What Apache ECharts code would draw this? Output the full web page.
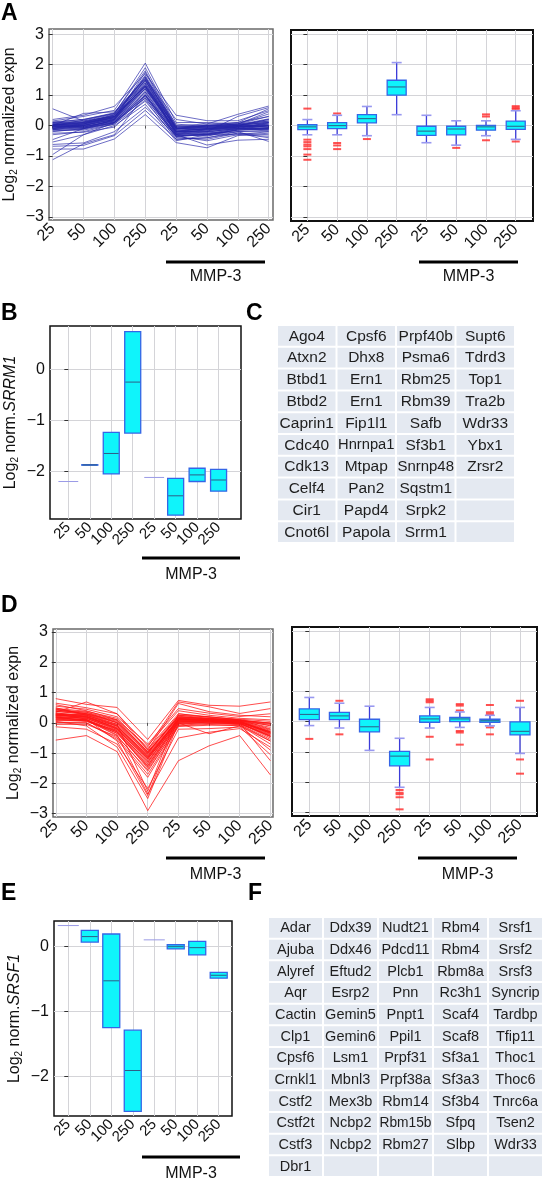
<!DOCTYPE html>
<html><head><meta charset="utf-8">
<script src="https://cdn.jsdelivr.net/npm/echarts@6/dist/echarts.min.js"></script>
<style>html,body{margin:0;padding:0;background:#fff}#c{width:547px;height:1180px}</style>
</head><body><div id="c"></div>
<script>
const FONT = '"Liberation Sans", Arial, Helvetica, sans-serif';

// ---------- categories / ticks ----------
const doseLabels = ['25', '50', '100', '250', '25', '50', '100', '250'];
const xIdx = [0, 1, 2, 3, 4, 5, 6, 7];
const yTicksFull = [-3, -2, -1, 0, 1, 2, 3];
const yTicksSmall = [-2, -1, 0];
const groupLabel = 'MMP-3';

// ---------- panel A: up-regulated profiles (log2 normalized expn at 8 conditions) ----------
const upLines = [
  [0.05, 0.10, 0.30, 1.30, -0.20, -0.10, 0.00, 0.10],
  [-0.10, 0.00, 0.20, 1.50, -0.30, -0.20, -0.10, 0.00],
  [0.00, 0.05, 0.35, 1.60, -0.10, -0.05, 0.00, 0.20],
  [-0.05, -0.05, 0.15, 1.10, -0.25, -0.30, -0.15, -0.10],
  [0.10, 0.20, 0.40, 1.80, -0.05, 0.00, 0.05, 0.30],
  [-0.20, -0.10, 0.10, 0.90, -0.35, -0.25, -0.20, -0.15],
  [0.02, 0.08, 0.25, 1.25, -0.15, -0.12, -0.03, 0.05],
  [-0.12, -0.08, 0.12, 1.00, -0.30, -0.35, -0.12, -0.10],
  [0.15, 0.30, 0.50, 2.05, 0.10, 0.10, 0.05, 0.45],
  [-0.30, -0.20, 0.05, 0.80, -0.40, -0.45, -0.25, -0.30],
  [0.55, 0.15, 0.30, 1.40, -0.10, -0.08, 0.00, 0.00],
  [-0.46, -0.10, 0.20, 1.20, -0.20, -0.15, -0.05, -0.05],
  [-0.54, -0.30, 0.00, 0.70, -0.50, -0.30, -0.30, -0.35],
  [-0.62, -0.57, -0.20, 0.60, -0.30, -0.64, -0.48, -0.45],
  [-0.68, -0.65, -0.33, 0.50, -0.45, -0.40, -0.20, -0.52],
  [-0.77, -0.77, -0.44, 0.36, -0.56, -0.73, -0.33, -0.25],
  [-0.95, -0.30, 0.10, 0.90, -0.35, -0.50, -0.30, -0.20],
  [-1.12, -0.60, -0.30, 1.00, -0.20, -0.20, -0.10, 0.10],
  [0.20, 0.34, 0.63, 1.70, 0.34, 0.16, 0.16, 0.49],
  [0.03, 0.10, 0.36, 1.49, -0.02, -0.02, 0.01, 0.15],
  [-0.13, -0.10, 0.09, 1.00, -0.32, -0.30, -0.15, -0.12],
  [-0.04, 0.00, 0.23, 1.27, -0.18, -0.11, -0.04, -0.02],
  [0.00, 0.40, 0.45, 1.55, 0.20, 0.05, 0.37, 0.64],
  [-0.08, 0.02, 0.20, 1.35, -0.25, -0.20, 0.30, 0.59],
  [-0.02, 0.05, 0.28, 1.45, -0.10, 0.00, 0.10, 0.55],
  [0.05, -0.05, 0.18, 1.15, -0.22, -0.15, -0.08, -0.10],
  [-0.15, -0.15, 0.05, 0.95, -0.28, -0.25, -0.12, 0.00],
  [0.10, 0.12, 0.32, 1.30, -0.05, 0.00, 0.02, 0.10],
  [-0.06, 0.03, 0.26, 1.60, -0.18, -0.10, -0.06, 0.05],
  [0.00, -0.02, 0.15, 1.05, -0.35, -0.28, -0.10, -0.15],
  [-0.10, 0.06, 0.22, 1.75, -0.10, -0.05, 0.00, 0.20],
  [0.08, 0.15, 0.38, 1.90, 0.00, 0.05, 0.10, 0.30],
  [-0.25, -0.22, -0.05, 0.85, -0.45, -0.40, -0.25, -0.40],
  [0.03, 0.05, 0.30, 1.20, -0.12, -0.08, -0.02, -0.05],
  [-0.03, 0.00, 0.20, 1.40, -0.22, -0.18, -0.05, 0.00],
  [0.12, 0.20, 0.42, 1.55, -0.08, -0.02, 0.05, 0.15],
  [-0.18, -0.12, 0.08, 1.10, -0.30, -0.32, -0.20, -0.20],
  [0.00, 0.10, 0.25, 1.35, -0.15, -0.10, -0.04, 0.08],
  [-0.05, -0.03, 0.12, 1.22, -0.20, -0.22, -0.08, -0.12],
  [0.02, 0.08, 0.30, 1.65, -0.05, -0.06, 0.00, 0.12],
  [-0.10, -0.06, 0.17, 1.28, -0.27, -0.12, -0.10, -0.08],
  [0.06, 0.12, 0.34, 1.48, -0.12, 0.02, 0.03, 0.22],
  [-0.02, -0.08, 0.10, 0.98, -0.38, -0.28, -0.15, -0.06],
  [-0.14, 0.00, 0.28, 1.30, -0.08, -0.14, -0.02, 0.02],
  [0.00, 0.18, 0.40, 1.52, 0.05, -0.04, 0.06, 0.38]
];
// [min, Q1, median, Q3, max]
const upBoxes = [
  [-0.30, -0.13, -0.04, 0.03, 0.20],
  [-0.30, -0.10, 0.00, 0.10, 0.34],
  [-0.33, 0.09, 0.23, 0.36, 0.63],
  [0.36, 1.00, 1.27, 1.49, 2.07],
  [-0.56, -0.32, -0.18, -0.02, 0.34],
  [-0.64, -0.30, -0.11, -0.02, 0.16],
  [-0.33, -0.15, -0.04, 0.01, 0.16],
  [-0.45, -0.12, -0.02, 0.15, 0.49]
];
const upOutliers = [
  [0, 0.56], [0, -0.46], [0, -0.54], [0, -0.62], [0, -0.68], [0, -0.77], [0, -0.95], [0, -1.12],
  [1, 0.40], [1, -0.57], [1, -0.65], [1, -0.77], [2, -0.44], [5, -0.73],
  [6, 0.37], [6, 0.30], [6, -0.48], [7, 0.64], [7, 0.59], [7, 0.55], [7, -0.52]
];

// ---------- panel B: SRRM1 [low, Q1, median, Q3, high] ----------
const srrm1Boxes = [
  [-2.20, -2.20, -2.20, -2.20, -2.20],
  [-1.88, -1.88, -1.875, -1.87, -1.87],
  [-2.05, -2.05, -1.65, -1.235, -1.235],
  [-1.25, -1.25, -0.25, 0.74, 0.74],
  [-2.12, -2.12, -2.12, -2.12, -2.12],
  [-2.86, -2.86, -2.48, -2.14, -2.14],
  [-2.20, -2.20, -2.07, -1.94, -1.94],
  [-2.39, -2.39, -2.17, -1.96, -1.96]
];

// ---------- panel C: gene table (columns) ----------
const tableC = [
  ['Ago4', 'Atxn2', 'Btbd1', 'Btbd2', 'Caprin1', 'Cdc40', 'Cdk13', 'Celf4', 'Cir1', 'Cnot6l'],
  ['Cpsf6', 'Dhx8', 'Ern1', 'Ern1', 'Fip1l1', 'Hnrnpa1', 'Mtpap', 'Pan2', 'Papd4', 'Papola'],
  ['Prpf40b', 'Psma6', 'Rbm25', 'Rbm39', 'Safb', 'Sf3b1', 'Snrnp48', 'Sqstm1', 'Srpk2', 'Srrm1'],
  ['Supt6', 'Tdrd3', 'Top1', 'Tra2b', 'Wdr33', 'Ybx1', 'Zrsr2', '', '', '']
];

// ---------- panel D: down-regulated profiles ----------
const downLines = [
  [0.30, 0.20, -0.10, -1.10, 0.10, 0.10, 0.03, -0.30],
  [0.45, 0.30, 0.05, -0.95, 0.20, 0.15, 0.08, -0.05],
  [0.10, 0.05, -0.30, -1.40, 0.00, 0.02, -0.02, -0.45],
  [0.80, 0.61, 0.51, -0.55, 0.74, 0.58, 0.55, 0.69],
  [-0.57, -0.42, -0.95, -2.90, -1.25, -0.76, -0.42, -1.72],
  [0.25, 0.20, -0.20, -1.20, 0.10, 0.10, 0.05, -0.35],
  [0.60, 0.40, 0.10, -0.80, 0.69, 0.53, 0.31, 0.47],
  [0.00, 0.00, -0.50, -1.70, -0.10, -0.05, -0.10, -0.60],
  [-0.13, -0.21, -0.70, -2.17, -0.21, -0.19, -0.14, -1.05],
  [0.40, 0.35, 0.00, -1.00, 0.25, 0.20, 0.10, -0.10],
  [0.20, 0.15, -0.25, -1.30, 0.05, 0.08, 0.00, -0.40],
  [0.35, 0.69, 0.30, -0.90, 0.64, 0.37, 0.25, 0.20],
  [0.07, 0.07, -0.34, -1.46, -0.02, 0.00, -0.02, -0.44],
  [0.42, 0.31, 0.08, -0.98, 0.19, 0.14, 0.08, -0.01],
  [0.24, 0.19, -0.17, -1.14, 0.09, 0.09, 0.03, -0.32],
  [0.50, 0.25, -0.05, -2.26, 0.30, 0.20, 0.10, -0.20],
  [0.15, 0.10, -0.40, -2.35, -0.50, -0.31, -0.19, -0.80],
  [0.30, 0.12, -0.60, -2.40, 0.15, 0.05, 0.00, -1.25],
  [0.05, -0.10, -0.80, -2.50, 0.00, -0.36, -0.10, -0.90],
  [0.55, 0.45, 0.20, -0.70, 0.47, 0.32, 0.21, 0.30],
  [0.28, 0.22, -0.12, -1.05, 0.12, 0.11, 0.05, -0.25],
  [0.18, 0.10, -0.28, -1.35, 0.02, 0.05, -0.01, -0.50],
  [0.38, 0.28, 0.00, -1.00, 0.22, 0.12, 0.06, -0.08],
  [0.12, 0.08, -0.42, -1.60, -0.05, 0.03, -0.05, -0.55],
  [0.32, 0.25, -0.08, -1.15, 0.15, 0.10, 0.04, -0.28],
  [0.22, 0.15, -0.20, -1.25, 0.06, 0.06, 0.02, -0.38],
  [0.48, 0.38, 0.15, -0.85, 0.30, 0.18, 0.12, 0.05],
  [0.02, 0.00, -0.55, -1.80, -0.12, -0.08, -0.08, -0.70],
  [0.26, 0.18, -0.15, -1.12, 0.08, 0.10, 0.04, -0.30],
  [0.38, 0.30, 0.02, -0.95, 0.18, 0.13, 0.07, 0.00],
  [0.15, 0.12, -0.30, -1.50, 0.00, 0.00, -0.03, -0.42],
  [0.20, 0.05, -0.25, -1.30, 0.10, 0.08, 0.02, -0.33],
  [0.65, 0.50, 0.30, -0.75, 0.40, 0.25, 0.15, 0.10],
  [-0.05, -0.05, -0.45, -1.55, -0.08, -0.02, -0.06, -0.60],
  [0.28, 0.25, -0.10, -1.08, 0.12, 0.11, 0.06, -0.22],
  [0.10, 0.10, -0.35, -1.42, 0.05, 0.04, 0.00, -0.45],
  [0.33, 0.22, -0.18, -1.20, 0.14, 0.10, 0.04, -0.35],
  [0.45, 0.35, 0.10, -0.90, 0.25, 0.15, 0.10, -0.02],
  [0.18, 0.16, -0.22, -1.18, 0.03, 0.07, 0.01, -0.30],
  [0.25, 0.28, -0.05, -1.02, 0.16, 0.12, 0.06, -0.15]
];
const downBoxes = [
  [-0.13, 0.07, 0.24, 0.42, 0.80],
  [-0.21, 0.07, 0.19, 0.31, 0.61],
  [-0.95, -0.34, -0.17, 0.08, 0.51],
  [-2.17, -1.46, -1.14, -0.98, -0.55],
  [-0.21, -0.02, 0.09, 0.19, 0.47],
  [-0.19, 0.00, 0.09, 0.14, 0.32],
  [-0.14, -0.02, 0.03, 0.08, 0.21],
  [-1.05, -0.44, -0.32, -0.01, 0.47]
];
const downOutliers = [
  [0, -0.57], [1, 0.69], [1, -0.42],
  [3, -2.26], [3, -2.35], [3, -2.40], [3, -2.50], [3, -2.90],
  [4, 0.74], [4, 0.69], [4, 0.64], [4, -0.50], [4, -1.25],
  [5, 0.58], [5, 0.53], [5, 0.37], [5, -0.31], [5, -0.36], [5, -0.76],
  [6, 0.55], [6, 0.31], [6, 0.25], [6, -0.19], [6, -0.42],
  [7, 0.69], [7, -1.25], [7, -1.72]
];

// ---------- panel E: SRSF1 ----------
const srsf1Boxes = [
  [0.32, 0.32, 0.32, 0.32, 0.32],
  [0.066, 0.066, 0.15, 0.245, 0.245],
  [-1.25, -1.25, -0.53, 0.19, 0.19],
  [-2.54, -2.54, -1.91, -1.29, -1.29],
  [0.10, 0.10, 0.10, 0.10, 0.10],
  [-0.04, -0.04, -0.005, 0.025, 0.025],
  [-0.13, -0.13, -0.02, 0.077, 0.077],
  [-0.49, -0.49, -0.445, -0.40, -0.40]
];

// ---------- panel F: gene table (columns) ----------
const tableF = [
  ['Adar', 'Ajuba', 'Alyref', 'Aqr', 'Cactin', 'Clp1', 'Cpsf6', 'Crnkl1', 'Cstf2', 'Cstf2t', 'Cstf3', 'Dbr1'],
  ['Ddx39', 'Ddx46', 'Eftud2', 'Esrp2', 'Gemin5', 'Gemin6', 'Lsm1', 'Mbnl3', 'Mex3b', 'Ncbp2', 'Ncbp2', ''],
  ['Nudt21', 'Pdcd11', 'Plcb1', 'Pnn', 'Pnpt1', 'Ppil1', 'Prpf31', 'Prpf38a', 'Rbm14', 'Rbm15b', 'Rbm27', ''],
  ['Rbm4', 'Rbm4', 'Rbm8a', 'Rc3h1', 'Scaf4', 'Scaf8', 'Sf3a1', 'Sf3a3', 'Sf3b4', 'Sfpq', 'Slbp', ''],
  ['Srsf1', 'Srsf2', 'Srsf3', 'Syncrip', 'Tardbp', 'Tfip11', 'Thoc1', 'Thoc6', 'Tnrc6a', 'Tsen2', 'Wdr33', '']
];

// ================= helpers =================
const minusFmt = v => (v < 0 ? '\u2212' + Math.abs(v) : String(v));
const measureCtx = document.createElement('canvas').getContext('2d');
function textWidth(t, fs) { measureCtx.font = fs + 'px ' + FONT; return measureCtx.measureText(t).width; }

function xAxisDose(gi, min, max, tick, fs) {
  return {
    type: 'value', gridIndex: gi, min: min, max: max,
    axisLine: { show: false },
    axisTick: { show: tick, customValues: xIdx, length: 3, lineStyle: { color: '#555' } },
    axisLabel: { customValues: xIdx, formatter: v => doseLabels[Math.round(v)], rotate: 45, margin: 6,
      showMinLabel: true, showMaxLabel: true, hideOverlap: false,
      fontSize: fs, color: '#111', fontFamily: FONT },
    splitLine: { show: true, lineStyle: { color: '#d4d4d8', width: 1 } }
  };
}
function yAxisVal(gi, min, max, ticks, showLabel, name) {
  const ax = {
    type: 'value', gridIndex: gi, min: min, max: max,
    axisLine: { show: false },
    axisTick: { show: true, customValues: ticks, length: 4, lineStyle: { color: '#333' } },
    axisLabel: { show: showLabel, customValues: ticks, formatter: minusFmt, margin: 5,
      showMinLabel: true, showMaxLabel: true,
      fontSize: 16, color: '#111', fontFamily: FONT },
    splitLine: { show: true, lineStyle: { color: '#d4d4d8', width: 1 } }
  };
  if (name) {
    ax.name = name; ax.nameLocation = 'middle'; ax.nameRotate = 90; ax.nameGap = 30;
    ax.nameTextStyle = {
      fontFamily: FONT, color: '#111',
      rich: {
        n: { fontSize: 16, lineHeight: 18, fontFamily: FONT, color: '#111', verticalAlign: 'middle' },
        s: { fontSize: 10, lineHeight: 10, fontFamily: FONT, color: '#111', verticalAlign: 'bottom' },
        i: { fontSize: 16, lineHeight: 18, fontFamily: FONT, color: '#111', fontStyle: 'italic', verticalAlign: 'middle' }
      }
    };
  }
  return ax;
}
function hiddenCat(gi, n, inverse) {
  const d = []; for (let i = 0; i < n; i++) d.push(i);
  return { type: 'category', gridIndex: gi, data: d, inverse: !!inverse, show: false,
    axisLine: { show: false }, axisTick: { show: false }, axisLabel: { show: false }, splitLine: { show: false } };
}

function seg(x1, y1, x2, y2, color, w) {
  return { type: 'line', shape: { x1: x1, y1: y1, x2: x2, y2: y2 }, style: { stroke: color, lineWidth: w } };
}
function boxRender(boxW, capW) {
  return function (params, api) {
    const x = api.value(0);
    const pMin = api.coord([x, api.value(1)]);
    const pQ1 = api.coord([x, api.value(2)]);
    const pMed = api.coord([x, api.value(3)]);
    const pQ3 = api.coord([x, api.value(4)]);
    const pMax = api.coord([x, api.value(5)]);
    const cx = pMed[0];
    const ch = [];
    if (pMax[1] < pQ3[1] - 0.5) {
      ch.push(seg(cx, pMax[1], cx, pQ3[1], '#3b3bd8', 1.3));
      ch.push(seg(cx - capW / 2, pMax[1], cx + capW / 2, pMax[1], '#9898f0', 1.6));
    }
    if (pMin[1] > pQ1[1] + 0.5) {
      ch.push(seg(cx, pQ1[1], cx, pMin[1], '#3b3bd8', 1.3));
      ch.push(seg(cx - capW / 2, pMin[1], cx + capW / 2, pMin[1], '#9898f0', 1.6));
    }
    const h = pQ1[1] - pQ3[1];
    if (h < 0.3) {
      ch.push(seg(cx - boxW * 0.62, pMed[1], cx + boxW * 0.62, pMed[1], '#9a9ae6', 1));
    } else {
      ch.push({ type: 'rect', shape: { x: cx - boxW / 2, y: pQ3[1], width: boxW, height: h },
        style: { fill: '#0ff4fb', stroke: '#3565e6', lineWidth: 1.3 } });
      ch.push(seg(cx - boxW / 2 + 0.6, pMed[1], cx + boxW / 2 - 0.6, pMed[1], '#2f5d86', 1));
    }
    return { type: 'group', children: ch };
  };
}
function boxSeries(gi, boxes, boxW, capW) {
  return {
    type: 'custom', xAxisIndex: gi, yAxisIndex: gi, z: 4, silent: true, clip: false,
    renderItem: boxRender(boxW, capW),
    encode: { x: 0, y: [1, 2, 3, 4, 5] },
    data: boxes.map((b, i) => [i].concat(b))
  };
}
function outlierSeries(gi, pts) {
  return { type: 'scatter', xAxisIndex: gi, yAxisIndex: gi, z: 3, silent: true,
    symbol: 'rect', symbolSize: [8, 2], itemStyle: { color: '#ff2626' }, data: pts };
}
function profileSeries(gi, lines, color) {
  return lines.map(v => ({
    type: 'line', xAxisIndex: gi, yAxisIndex: gi, silent: true, symbol: 'none', z: 2,
    lineStyle: { width: 0.9, color: color },
    data: v.map((y, i) => [i, y])
  }));
}
function tableSeries(gi, table, fontSize, color) {
  const cells = [];
  table.forEach((col, c) => col.forEach((t, r) => cells.push([c, r])));
  return {
    type: 'custom', xAxisIndex: gi, yAxisIndex: gi, silent: true,
    encode: { x: 0, y: 1 }, data: cells,
    renderItem: function (params, api) {
      const c = api.value(0), r = api.value(1);
      const p = api.coord([c, r]);
      const s = api.size([1, 1]);
      const txt = table[c][r];
      let fs = fontSize;
      const w = textWidth(txt, fs);
      if (w > s[0] - 3) fs = fs * (s[0] - 3) / w;
      return { type: 'group', children: [
        { type: 'rect', shape: { x: p[0] - s[0] / 2 + 1, y: p[1] - s[1] / 2 + 1, width: s[0] - 2, height: s[1] - 2 },
          style: { fill: color } },
        { type: 'text', style: { text: txt, x: p[0], y: p[1] + 0.5, align: 'center', verticalAlign: 'middle',
          fontSize: fs, fontFamily: FONT, fill: '#1e1e1e' } }
      ] };
    }
  };
}

// ================= layout =================
const grids = [
  { left: 49, top: 29, width: 224, height: 191, show: true, borderColor: '#6a6a6a', borderWidth: 1.5, backgroundColor: '#fff' }, // A left
  { left: 291, top: 30, width: 242, height: 191, show: true, borderColor: '#111', borderWidth: 2, backgroundColor: '#fff' },     // A right
  { left: 50, top: 326, width: 191, height: 193, show: true, borderColor: '#111', borderWidth: 1.5, backgroundColor: '#fff' },   // B
  { left: 277, top: 325, width: 238, height: 218, show: false },                                                                 // C
  { left: 53, top: 629, width: 220, height: 188, show: true, borderColor: '#6a6a6a', borderWidth: 1.5, backgroundColor: '#fff' }, // D left
  { left: 292, top: 627, width: 245, height: 189, show: true, borderColor: '#111', borderWidth: 2, backgroundColor: '#fff' },    // D right
  { left: 54, top: 921, width: 178, height: 195, show: true, borderColor: '#111', borderWidth: 1.5, backgroundColor: '#fff' },   // E
  { left: 268, top: 917, width: 275, height: 260, show: false }                                                                  // F
];

const xAxes = [
  xAxisDose(0, -0.12, 7.14, true, 16),
  xAxisDose(1, -0.55, 7.58, false, 16),
  xAxisDose(2, -0.854, 8.045, false, 15),
  hiddenCat(3, tableC.length, false),
  xAxisDose(4, -0.09, 7.085, true, 16),
  xAxisDose(5, -0.575, 7.565, false, 16),
  xAxisDose(6, -0.665, 7.618, false, 15),
  hiddenCat(7, tableF.length, false)
];
const yAxes = [
  yAxisVal(0, -3.1, 3.17, yTicksFull, true, '{n|Log}{s|2}{n| normalized expn}'),
  yAxisVal(1, -3.13, 3.14, yTicksFull, false, null),
  yAxisVal(2, -2.935, 0.85, yTicksSmall, true, '{n|Log}{s|2}{n| norm.}{i|SRRM1}'),
  hiddenCat(3, tableC[0].length, true),
  yAxisVal(4, -3.11, 3.1, yTicksFull, true, '{n|Log}{s|2}{n| normalized expn}'),
  yAxisVal(5, -3.12, 3.13, yTicksFull, false, null),
  yAxisVal(6, -2.61, 0.39, yTicksSmall, true, '{n|Log}{s|2}{n| norm.}{i|SRSF1}'),
  hiddenCat(7, tableF[0].length, true)
];

const series = [].concat(
  profileSeries(0, upLines, 'rgba(38,38,168,0.75)'),
  [outlierSeries(1, upOutliers), boxSeries(1, upBoxes, 19, 10)],
  [boxSeries(2, srrm1Boxes, 16, 8)],
  [tableSeries(3, tableC, 15.5, '#e4e9f1')],
  profileSeries(4, downLines, 'rgba(255,20,20,0.85)'),
  [outlierSeries(5, downOutliers), boxSeries(5, downBoxes, 20, 10)],
  [boxSeries(6, srsf1Boxes, 17, 8)],
  [tableSeries(7, tableF, 14.5, '#e4e9f1')]
);

function letter(t, x, y) {
  return { type: 'text', x: x, y: y, z: 10,
    style: { text: t, font: 'bold 23px ' + FONT, fill: '#000', align: 'left', verticalAlign: 'top' } };
}
function groupBar(x1, x2, y, ty) {
  return [
    { type: 'line', z: 10, shape: { x1: x1, y1: y, x2: x2, y2: y }, style: { stroke: '#000', lineWidth: 3 } },
    { type: 'text', z: 10, x: (x1 + x2) / 2, y: ty,
      style: { text: groupLabel, font: '16px ' + FONT, fill: '#111', align: 'center', verticalAlign: 'middle' } }
  ];
}
const graphics = [
  letter('A', 1, 2), letter('B', 1, 302), letter('C', 246, 302),
  letter('D', 1, 594), letter('E', 1, 882), letter('F', 248, 882)
].concat(
  groupBar(166, 265, 262, 277),
  groupBar(419, 518, 262, 277),
  groupBar(142, 240, 558, 575),
  groupBar(166, 265, 858, 875),
  groupBar(418, 517, 858, 875),
  groupBar(142, 240, 1157, 1174)
);

const chart = echarts.init(document.getElementById('c'), null, { renderer: 'canvas' });
chart.setOption({
  animation: false,
  backgroundColor: '#fff',
  textStyle: { fontFamily: FONT },
  grid: grids,
  xAxis: xAxes,
  yAxis: yAxes,
  series: series,
  graphic: graphics
});
</script>
</body></html>
